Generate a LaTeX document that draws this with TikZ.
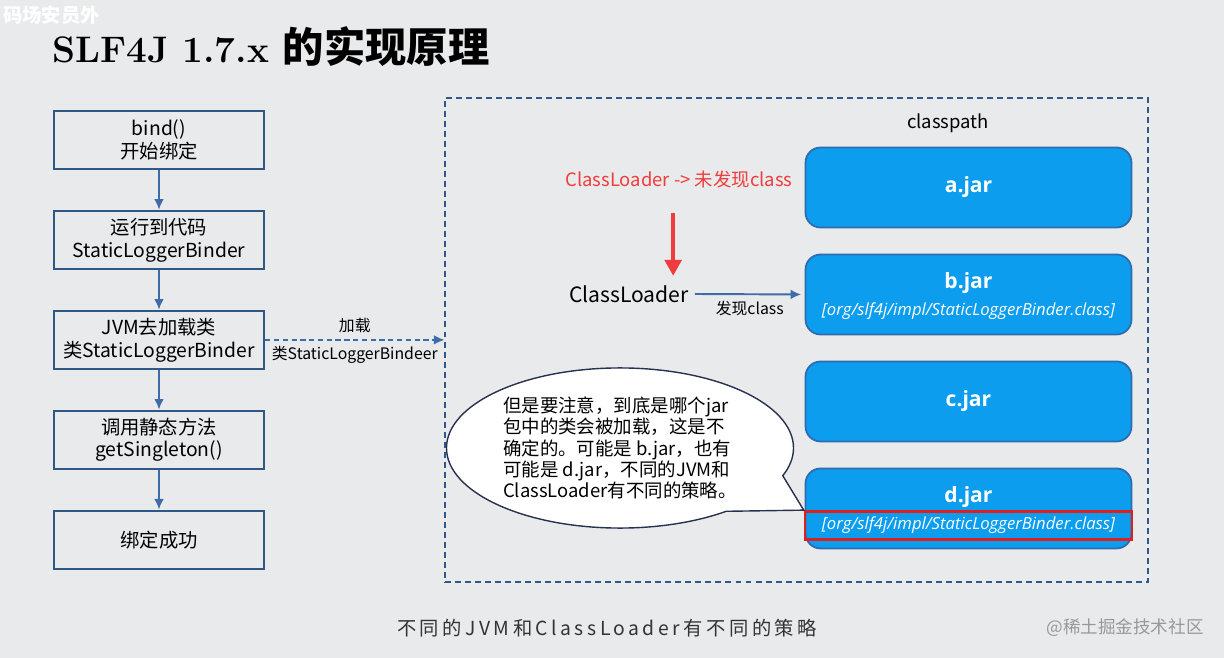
\documentclass[tikz,border=0pt]{standalone}
\usepackage{fontspec}
\newfontfamily\cjk{Noto Sans CJK SC}
\newfontfamily\jarfont{Open Sans}
\usetikzlibrary{positioning, arrows.meta, calc, shapes.callouts}

\definecolor{bgGray}{RGB}{233,234,235}
\definecolor{stepBorder}{RGB}{47,88,135}
\definecolor{flowBlue}{RGB}{62,108,168}
\definecolor{jarFill}{RGB}{12,157,238}
\definecolor{jarBorder}{RGB}{46,108,176}
\definecolor{alertRed}{RGB}{240,60,60}
\definecolor{frameRed}{RGB}{225,30,30}
\definecolor{bubbleLine}{RGB}{40,50,80}

\begin{document}
\begin{tikzpicture}[
    x=0.02cm, y=-0.02cm,
    >={Latex[length=6pt,width=5.5pt]},
    stepbox/.style={draw=stepBorder, line width=1.4pt, fill=bgGray, minimum width=4.2cm, minimum height=1.16cm, align=center, font=\cjk\fontsize{11}{13}\selectfont},
    jar/.style={draw=jarBorder, line width=1pt, fill=jarFill, rounded corners=0.3cm, minimum width=6.52cm, minimum height=1.6cm, text=white, font=\jarfont\bfseries\fontsize{12}{14}\selectfont},
    jarname/.style={font=\jarfont\bfseries\fontsize{12}{14}\selectfont, text=white},
    jarpath/.style={font=\jarfont\itshape\fontsize{9.5}{12}\selectfont, text=white, minimum width=6.54cm, minimum height=0.56cm, inner sep=0pt},
    txt/.style={font=\cjk\fontsize{9}{11}\selectfont, align=center},
    flowarrow/.style={->, draw=flowBlue, line width=1.1pt},
    loadarrow/.style={->, draw=flowBlue, line width=0.9pt, dash pattern=on 3pt off 2pt},
    redarrow/.style={-{Triangle[length=9pt,width=9.5pt]}, draw=alertRed, fill=alertRed, line width=2pt}
]

% background and page size
\fill[bgGray] (0,0) rectangle (1224,658);
\useasboundingbox (0,0) rectangle (1224,658);

% watermark + title
\node[font=\cjk\bfseries\fontsize{11}{13}\selectfont, text=white, anchor=west] (brand) at (-3,15) {码场安员外};
\node[anchor=west, inner sep=0pt, font=\bfseries\fontsize{21}{25}\selectfont] (title) at (52,47) {SLF4J 1.7.x {\cjk\fontsize{23.5}{26}\selectfont 的实现原理}};

% 1. left flow
\node[stepbox] (bind) at (159,140) {bind()\\开始绑定};
\node[stepbox, below=0.79cm of bind] (run) {运行到代码\\StaticLoggerBinder};
\node[stepbox, below=0.79cm of run] (load) {JVM去加载类\\类StaticLoggerBinder};
\node[stepbox, below=0.79cm of load] (call) {调用静态方法\\getSingleton()};
\node[stepbox, below=0.79cm of call] (done) {绑定成功};

\draw[flowarrow] (bind) -- (run);
\draw[flowarrow] (run) -- (load);
\draw[flowarrow] (load) -- (call);
\draw[flowarrow] (call) -- (done);

% 2. classpath frame
\node[draw=stepBorder, line width=0.8pt, dash pattern=on 3.4pt off 2.3pt, minimum width=14.06cm, minimum height=9.68cm] (cp) at (796.5,340) {};
\node[txt, font=\cjk\fontsize{10.5}{12}\selectfont] (cplabel) at (948,123) {classpath};

\draw[loadarrow] (load.east) -- (load.east -| cp.west)
    node[txt, midway, above] {加载}
    node[txt, midway, below] {类StaticLoggerBindeer};

% 3. jars
\node[jar] (ajar) at (968.5,187.5) {a.jar};
\node[jar, below=0.505cm of ajar] (bjar) {};
\node[jarname] (bname) at ($(bjar.center)+(0,-11)$) {b.jar};
\node[jarpath] (bpath) at ($(bjar.center)+(0,17)$) {[org/slf4j/impl/StaticLoggerBinder.class]};
\node[jar, below=0.505cm of bjar] (cjar) {c.jar};
\node[jar, below=0.505cm of cjar] (djar) {};
\node[jarname] (dname) at ($(djar.center)+(0,-11)$) {d.jar};
\node[jarpath, draw=frameRed, line width=1.5pt] (dpath) at ($(djar.center)+(0,17)$) {[org/slf4j/impl/StaticLoggerBinder.class]};

% 4. class loader
\node[font=\cjk\fontsize{10.5}{12}\selectfont, text=alertRed] (miss) at (679,179) {ClassLoader -> 未发现class};
\node[font=\cjk\fontsize{12}{14}\selectfont] (cl) at (629,294) {ClassLoader};
\coordinate (hit) at ($(cl.north)!0.67!(cl.north east)$);
\draw[redarrow, shorten <=0.38cm, shorten >=2pt] (miss.south -| hit) -- (hit);
\draw[flowarrow, shorten >=2pt] (cl.east) -- (bjar.west)
    node[txt, midway, below] {发现class};

% 5. note bubble
\node[ellipse callout, draw=bubbleLine, fill=white, line width=0.8pt, minimum width=6.88cm, minimum height=3.2cm,
      callout absolute pointer={(dpath.north west)}, callout pointer arc=32,
      align=left, font=\cjk\fontsize{10.5}{12}\selectfont] (note) at (620,448)
    {但是要注意，到底是哪个jar\\包中的类会被加载，这是不\\确定的。可能是 b.jar，也有\\可能是 d.jar，不同的JVM和\\ClassLoader有不同的策略。};

% 6. caption
\node[font=\cjk\fontsize{11}{13}\selectfont\addfontfeature{LetterSpace=18}, text=black!80] (caption) at (607,628) {不同的JVM和ClassLoader有不同的策略};
\node[font=\cjk\fontsize{10}{12}\selectfont, text=black!40] (site) at (1125,628) {@稀土掘金技术社区};

\end{tikzpicture}
\end{document}
